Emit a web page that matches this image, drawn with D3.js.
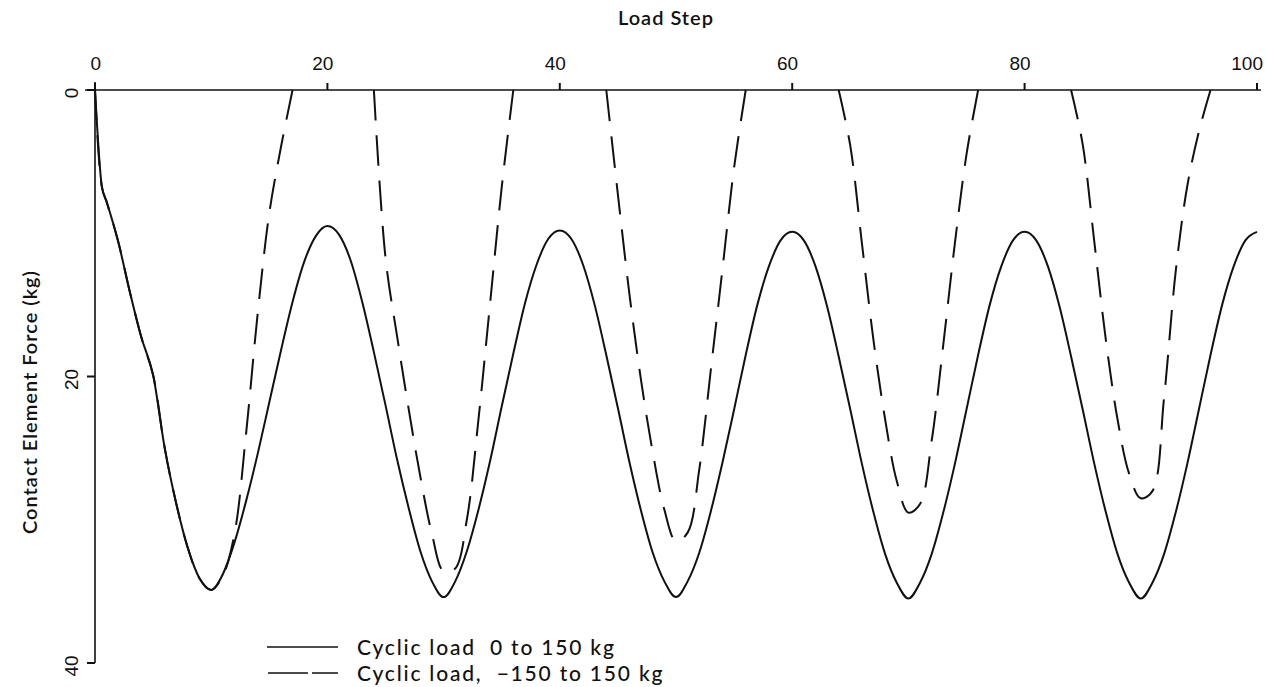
<!DOCTYPE html>
<html>
<head>
<meta charset="utf-8">
<script src="https://cdn.jsdelivr.net/npm/d3@7"></script>
<style>
  html, body { margin: 0; padding: 0; background: #fff; }
  svg { display: block; }
  .tick-label { font-family: "Liberation Sans", Arial, sans-serif; font-size: 19px; fill: #111; }
  .title { font-family: Lato, "Open Sans", sans-serif; font-size: 20px; font-weight: 600; fill: #111; letter-spacing: 1px; }
  .legend-text { font-family: Lato, "Open Sans", sans-serif; font-size: 21px; font-weight: 500; fill: #111; letter-spacing: 1.8px; white-space: pre; }
</style>
</head>
<body>
<svg id="chart" width="1271" height="687"></svg>
<script>
// Load steps at which the contact force was recorded
const loadStep = [
  0, 0.6, 1, 2, 3, 4, 5, 6, 7, 8, 9,
  10, 11, 12, 13, 14, 15, 16, 17, 18, 19,
  20, 21, 22, 23, 24, 25, 26, 27, 28, 29,
  30, 31, 32, 33, 34, 35, 36, 37, 38, 39,
  40, 41, 42, 43, 44, 45, 46, 47, 48, 49,
  50, 51, 52, 53, 54, 55, 56, 57, 58, 59,
  60, 61, 62, 63, 64, 65, 66, 67, 68, 69,
  70, 71, 72, 73, 74, 75, 76, 77, 78, 79,
  80, 81, 82, 83, 84, 85, 86, 87, 88, 89,
  90, 91, 92, 93, 94, 95, 96, 97, 98, 99,
  100
];

// Contact element force (kg), cyclic load 0 to 150 kg
const forceZeroTo150 = [
  0, 6.8, 7.8, 10.6, 14.1, 17.3, 19.9, 25.0, 28.9, 32.0, 34.1,
  34.9, 33.8, 31.6, 28.7, 25.4, 21.8, 18.2, 14.8, 12.0, 10.2,
  9.5, 10.1, 11.9, 14.8, 18.3, 22.0, 25.8, 29.2, 32.2, 34.3,
  35.4, 34.3, 32.2, 29.3, 25.9, 22.1, 18.4, 14.9, 12.2, 10.4,
  9.8, 10.4, 12.2, 15.0, 18.5, 22.2, 26.0, 29.4, 32.3, 34.3,
  35.4, 34.3, 32.3, 29.4, 26.0, 22.3, 18.5, 15.0, 12.3, 10.5,
  9.9, 10.5, 12.3, 15.1, 18.6, 22.3, 26.1, 29.5, 32.4, 34.4,
  35.5, 34.4, 32.4, 29.5, 26.1, 22.3, 18.5, 15.0, 12.3, 10.5,
  9.9, 10.5, 12.3, 15.1, 18.6, 22.3, 26.1, 29.5, 32.4, 34.4,
  35.5, 34.4, 32.4, 29.5, 26.1, 22.3, 18.5, 15.0, 12.3, 10.5,
  9.9
];

// Contact element force (kg), cyclic load -150 to 150 kg (0 while the contact is open)
const forceMinus150To150 = [
  0, 6.8, 7.8, 10.6, 14.1, 17.3, 19.9, 25.0, 28.9, 32.0, 34.1,
  34.9, 33.9, 31.0, 24.0, 15.6, 8.6, 4.0, 0, 0, 0,
  0, 0, 0, 0, 0, 11.7, 17.2, 22.3, 27.0, 31.0,
  33.6, 33.4, 30.0, 23.0, 14.9, 6.8, 0, 0, 0, 0,
  0, 0, 0, 0, 0, 7.3, 14.3, 20.3, 25.3, 29.3,
  31.5, 30.9, 26.5, 19.5, 12.5, 5.4, 0, 0, 0, 0,
  0, 0, 0, 0, 0, 3.9, 10.7, 17.5, 23.0, 27.3,
  29.5, 28.9, 24.5, 17.8, 10.7, 4.5, 0, 0, 0, 0,
  0, 0, 0, 0, 0, 3.8, 10.6, 17.5, 23.0, 26.8,
  28.5, 28.0, 21.5, 12.7, 6.7, 2.9, 0, 0, 0, 0,
  0
];

const xTicks = [0, 20, 40, 60, 80, 100];
const yTicks = [0, 20, 40];

const legendLabels = ["Cyclic load  0 to 150 kg", "Cyclic load,  \u2212150 to 150 kg"];

const svg = d3.select("#chart");

const x = d3.scaleLinear().domain([0, 100]).range([95, 1257]);
const y = d3.scaleLinear().domain([0, 40]).range([90, 663]);

// Top axis line (extends a little past both ends)
svg.append("line")
  .attr("x1", 85).attr("x2", 1261)
  .attr("y1", y(0)).attr("y2", y(0))
  .attr("stroke", "#111").attr("stroke-width", 1.6);

// Left axis line
svg.append("line")
  .attr("x1", x(0)).attr("x2", x(0))
  .attr("y1", y(0) - 8).attr("y2", y(40))
  .attr("stroke", "#111").attr("stroke-width", 1.6);

// X ticks pointing upward
const xAxis = svg.append("g");
xAxis.selectAll("line.tk").data(xTicks).join("line")
  .attr("class", "tk")
  .attr("x1", d => x(d)).attr("x2", d => x(d))
  .attr("y1", y(0)).attr("y2", y(0) - 7)
  .attr("stroke", "#111").attr("stroke-width", 2);
xAxis.selectAll("text").data(xTicks).join("text")
  .attr("class", "tick-label")
  .attr("x", d => x(d) + 6)
  .attr("y", 70)
  .attr("text-anchor", "end")
  .text(d => d);

// Y ticks pointing left, labels rotated
const yAxis = svg.append("g");
yAxis.selectAll("line.tk").data(yTicks).join("line")
  .attr("class", "tk")
  .attr("x1", x(0)).attr("x2", x(0) - 8)
  .attr("y1", d => y(d)).attr("y2", d => y(d))
  .attr("stroke", "#111").attr("stroke-width", 2);
yAxis.selectAll("text").data(yTicks).join("text")
  .attr("class", "tick-label")
  .attr("transform", d => `translate(78, ${y(d) + 3}) rotate(-90)`)
  .attr("text-anchor", "middle")
  .text(d => d);

// Axis titles
svg.append("text")
  .attr("class", "title")
  .attr("x", 666).attr("y", 25)
  .attr("text-anchor", "middle")
  .text("Load Step");

svg.append("text")
  .attr("class", "title")
  .attr("transform", "translate(37, 402) rotate(-90)")
  .attr("text-anchor", "middle")
  .text("Contact Element Force (kg)");

// Force curves
const solidPts = loadStep.map((s, i) => [s, forceZeroTo150[i]]);
const dashedPts = loadStep.map((s, i) => [s, forceMinus150To150[i]]);

const solidLine = d3.line()
  .x(d => x(d[0]))
  .y(d => y(d[1]))
  .curve(d3.curveMonotoneX);

svg.append("path")
  .attr("d", solidLine(solidPts))
  .attr("fill", "none")
  .attr("stroke", "#111")
  .attr("stroke-width", 2)
  .attr("stroke-linejoin", "round");

// Closed-contact arcs of the reversed-load curve: runs between stretches where
// the force stays at 0 on the axis.
const arcs = [];
let current = null;
dashedPts.forEach((p, i) => {
  const prevNZ = i > 0 && dashedPts[i - 1][1] !== 0;
  const nextNZ = i < dashedPts.length - 1 && dashedPts[i + 1][1] !== 0;
  const keep = p[1] !== 0 || prevNZ || nextNZ;
  if (keep) {
    if (!current) { current = []; arcs.push(current); }
    current.push(p);
    if (p[1] === 0 && current.length > 1) current = null;
  } else {
    current = null;
  }
});

const dashedLine = d3.line()
  .x(d => x(d[0]))
  .y(d => y(d[1]))
  .curve(d3.curveCatmullRom.alpha(0.5));

// Stretch the dash period a little per arc so both ends of every arc are dashes.
const DASH = 31, GAP = 15;
svg.append("g").selectAll("path").data(arcs).join("path")
  .attr("d", d => dashedLine(d))
  .attr("fill", "none")
  .attr("stroke", "#111")
  .attr("stroke-width", 2)
  .each(function () {
    const L = this.getTotalLength();
    const frac = DASH / (DASH + GAP);
    const k = Math.max(1, Math.round(L / (DASH + GAP) - frac));
    const p = L / (k + frac);
    d3.select(this).attr("stroke-dasharray", `${(p * frac).toFixed(2)} ${(p * (1 - frac)).toFixed(2)}`);
  });

// Legend
const legend = svg.append("g");
legend.append("line")
  .attr("x1", 267).attr("x2", 338)
  .attr("y1", 647).attr("y2", 647)
  .attr("stroke", "#111").attr("stroke-width", 1.6);
legend.append("line")
  .attr("x1", 268).attr("x2", 338)
  .attr("y1", 673).attr("y2", 673)
  .attr("stroke", "#111").attr("stroke-width", 1.6)
  .attr("stroke-dasharray", "40 4 26");
legend.selectAll("text").data(legendLabels).join("text")
  .attr("class", "legend-text")
  .attr("x", 357)
  .attr("y", (d, i) => 655 + i * 26)
  .text(d => d);
</script>
</body>
</html>
